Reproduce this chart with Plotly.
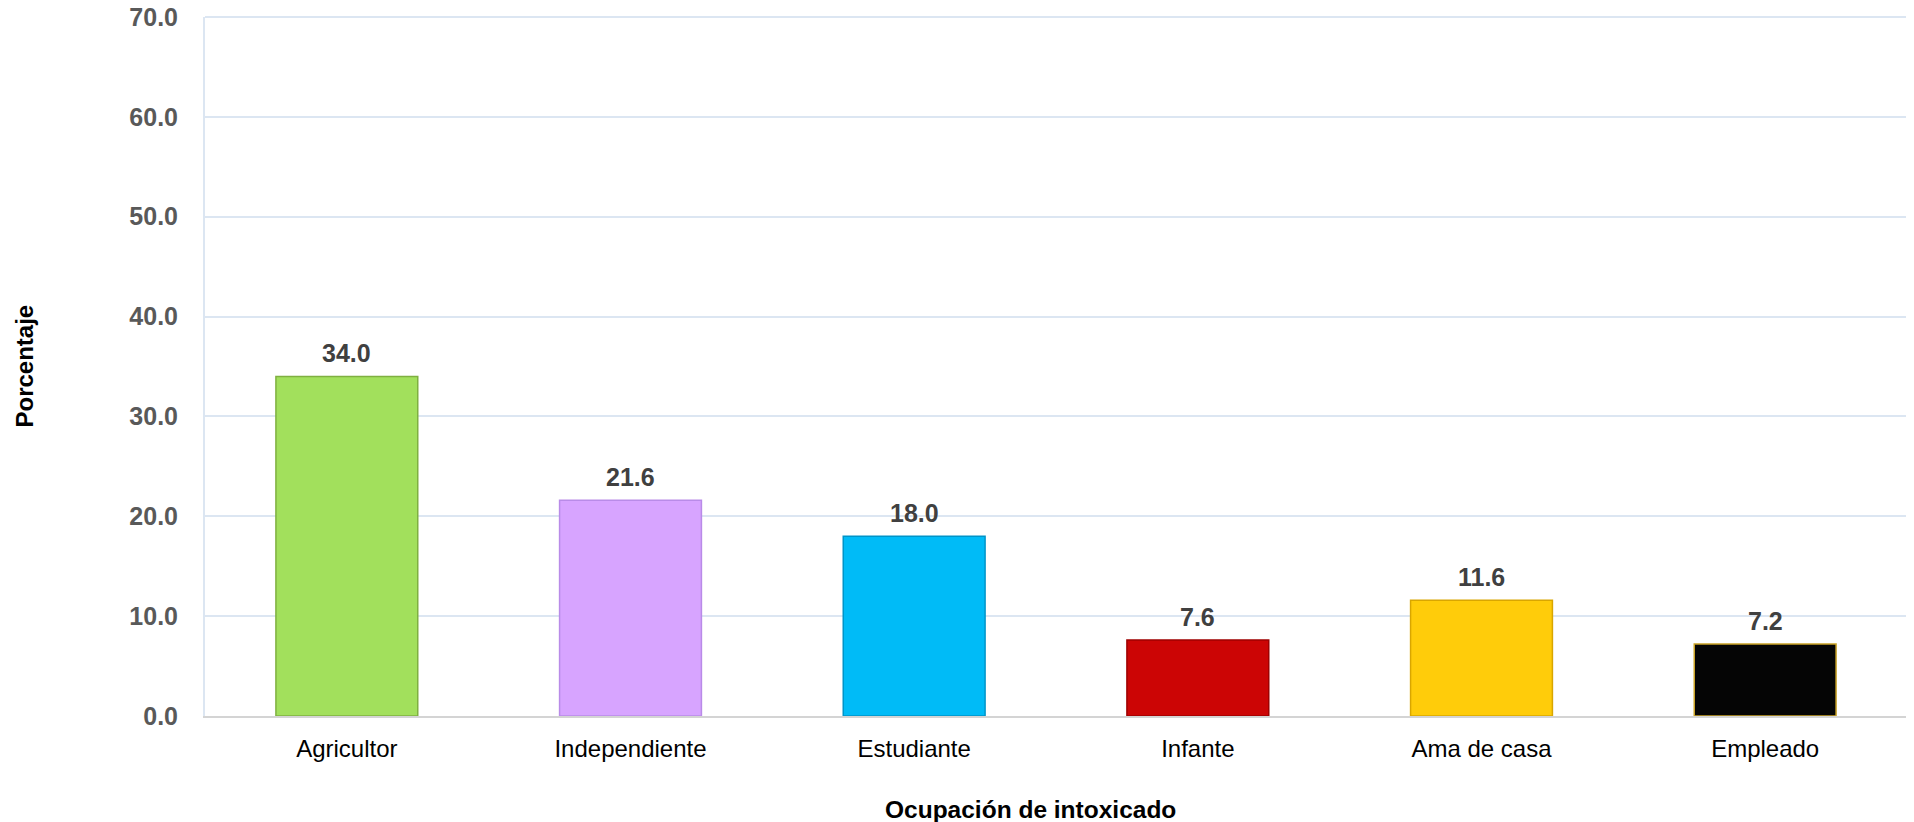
import plotly.graph_objects as go

ocupaciones = ["Agricultor", "Independiente", "Estudiante", "Infante", "Ama de casa", "Empleado"]
porcentajes = [34.0, 21.6, 18.0, 7.6, 11.6, 7.2]
y_ticks = [0, 10, 20, 30, 40, 50, 60, 70]

colores = ["#A2E05C", "#D7A4FF", "#00BBF7", "#CC0505", "#FFCC0A", "#050505"]
bordes = ["#7FB040", "#B98BE8", "#0094C8", "#9E0000", "#D9A600", "#C9A227"]

FONT = "Liberation Sans, Arial"

fig = go.Figure(
    go.Bar(
        x=ocupaciones,
        y=porcentajes,
        width=0.5,
        marker=dict(color=colores, line=dict(color=bordes, width=1.5)),
        hoverinfo="x+y",
    )
)

# etiquetas de datos sobre cada barra
for cat, val in zip(ocupaciones, porcentajes):
    fig.add_annotation(
        x=cat, y=val, text=f"<b>{val:.1f}</b>", showarrow=False,
        yanchor="bottom", yshift=7,
        font=dict(family=FONT, size=25, color="#404040"),
    )

# titulos de ejes como anotaciones (posicion fija)
fig.add_annotation(
    text="<b>Porcentaje</b>", xref="paper", yref="paper", x=0, y=0.5,
    xanchor="center", yanchor="middle", xshift=-181, textangle=-90,
    showarrow=False, font=dict(family=FONT, size=24, color="black"),
)
fig.add_annotation(
    text="<b>Ocupación de intoxicado</b>", xref="paper", yref="paper", x=0.5, y=0,
    xanchor="center", yanchor="middle", xshift=-26, yshift=-93,
    showarrow=False, font=dict(family=FONT, size=24.5, color="black"),
)

# la pagina tiene 8px de margen en body: se compensa aqui
fig.update_layout(
    width=1906,
    height=814,
    margin=dict(l=197, r=7, t=9, b=106),
    plot_bgcolor="white",
    paper_bgcolor="white",
    showlegend=False,
    font=dict(family=FONT, color="black"),
    xaxis=dict(
        automargin=False,
        tickfont=dict(size=24, color="black"),
        ticklabelstandoff=10,
        showline=True, linecolor="#D4D4D4", linewidth=2,
        ticks="", showgrid=False,
    ),
    yaxis=dict(
        automargin=False,
        range=[0, 70],
        tickvals=y_ticks,
        ticktext=[f"<b>{v:.1f}</b>" for v in y_ticks],
        tickfont=dict(size=25, color="#595959"),
        ticklabelstandoff=20,
        ticklabeloverflow="allow",
        showline=True, linecolor="#DCE6F2", linewidth=2, mirror=True,
        gridcolor="#DCE6F2", gridwidth=1.5,
        zeroline=False, ticks="",
    ),
)

fig.add_shape(type="line", xref="paper", yref="paper", x0=0, x1=1, y0=1, y1=1,
              line=dict(color="#DCE6F2", width=2))

fig.write_html("out.html")
